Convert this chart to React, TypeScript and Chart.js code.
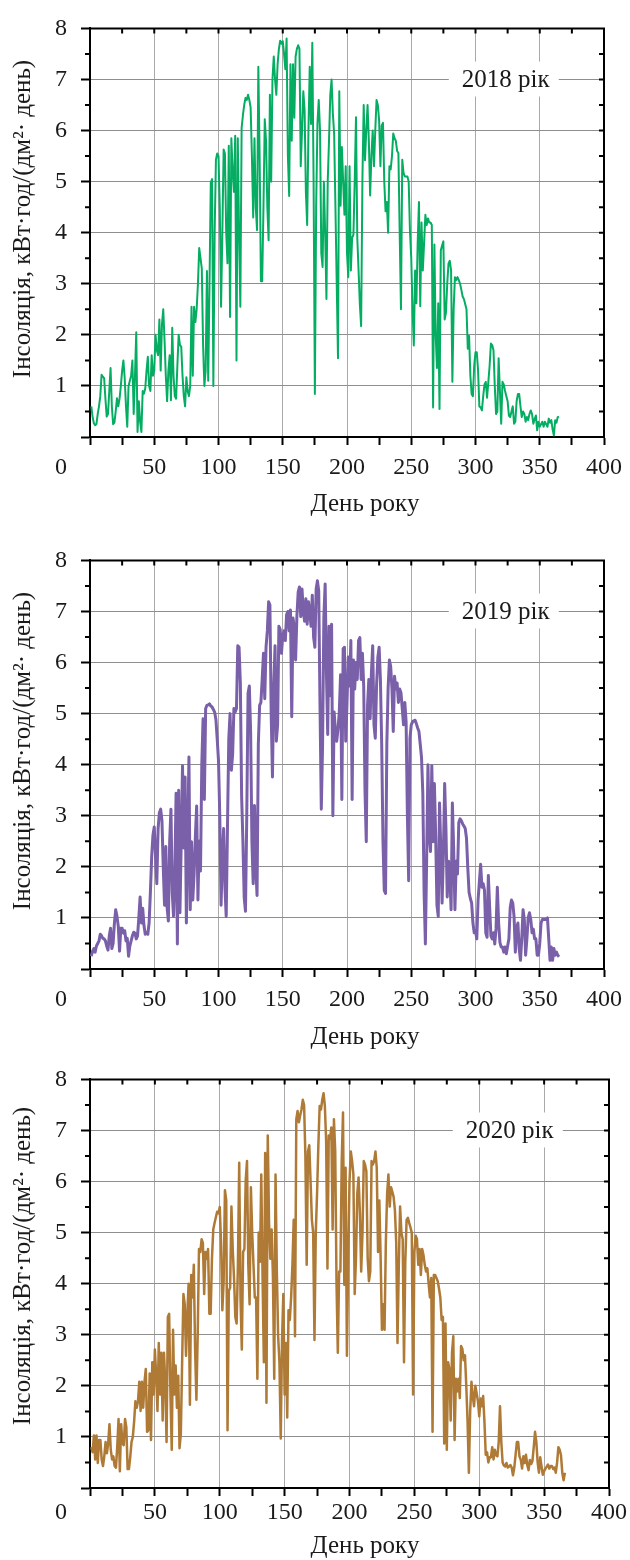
import React, { useEffect, useRef } from 'react';
import { Chart, registerables } from 'chart.js';

Chart.register(...registerables);

const FONT = '"Liberation Serif", "Times New Roman", serif';
const TEXT = '#1a1a1a';

const X_TICK_LABELS = [50, 100, 150, 200, 250, 300, 350, 400];
const Y_TICK_LABELS = [1, 2, 3, 4, 5, 6, 7, 8];
const X_AXIS_TITLE = 'День року';
const Y_AXIS_TITLE = 'Інсоляція, кВт·год/(дм²· день)';
const YEAR_LABELS = ['2018 рік', '2019 рік', '2020 рік'];

const insolation2018 = [
  0.6, 0.4, 0.27, 0.23, 0.25, 0.45, 0.6, 0.8, 1.22, 1.18,
  1.15, 0.75, 0.4, 0.45, 0.9, 1.35, 0.6, 0.25, 0.28, 0.5,
  0.76, 0.6, 0.75, 1.0, 1.3, 1.5, 1.15, 0.6, 0.2, 1.0,
  1.1, 1.2, 1.5, 0.45, 1.2, 2.05, 0.1, 0.7, 0.3, 0.1,
  0.9, 0.85, 0.95, 1.3, 1.57, 1.0, 0.9, 1.6, 1.2, 1.3,
  2.0, 1.7, 1.6, 2.3, 1.3, 2.2, 2.5, 1.9, 1.2, 0.7,
  1.3, 1.6, 0.72, 2.14, 1.2, 0.8, 0.75, 1.4, 2.0, 1.8,
  1.77, 1.2, 0.8, 0.6, 1.17, 0.9, 0.8, 1.0, 2.55, 1.2,
  2.55, 2.25, 2.5, 3.0, 3.7, 3.5, 3.3, 1.8, 1.0, 1.3,
  3.25, 1.1, 3.0, 4.98, 5.05, 1.0, 4.0, 5.43, 5.55, 5.5,
  4.5, 2.55, 4.0, 5.63, 5.55, 4.0, 3.4, 5.7, 2.35, 5.85,
  5.2, 4.8, 5.9, 1.5, 5.85, 4.0, 2.55, 6.05, 6.3, 6.5,
  6.64, 6.6, 6.7, 6.6, 6.45, 5.5, 4.3, 5.85, 4.5, 4.05,
  7.25, 5.5, 3.05, 3.05, 4.5, 6.22, 5.8, 4.5, 3.85, 6.7,
  5.0, 7.0, 7.45, 7.0, 6.7, 7.3, 7.6, 7.76, 7.7, 7.75,
  7.5, 7.2, 7.8, 5.5, 4.72, 7.3, 5.8, 7.3, 6.25, 7.45,
  7.6, 7.67, 7.6, 5.3, 6.0, 6.77, 6.4, 4.8, 4.15, 6.0,
  7.25, 6.13, 7.72, 5.0, 0.84, 4.5, 6.13, 6.6, 6.0, 3.6,
  3.33, 5.0, 4.0, 2.7, 5.0, 5.8, 6.7, 7.0, 6.33, 5.94,
  4.5, 3.0, 1.54, 6.77, 4.53, 5.68, 5.0, 4.35, 5.3, 3.6,
  3.13, 5.3, 3.26, 3.9, 3.96, 5.0, 6.26, 3.9, 3.26, 2.6,
  2.17, 5.04, 6.5, 5.42, 6.0, 6.5, 5.8, 4.73, 5.5, 6.0,
  5.3, 6.0, 6.6, 6.5, 6.2, 5.3, 6.1, 6.15, 5.0, 4.42,
  4.6, 4.0, 5.3, 5.24, 5.5, 5.94, 5.85, 5.8, 5.6, 5.56,
  4.0, 2.5, 5.43, 5.17, 5.1, 5.1, 5.1, 5.0, 4.03, 3.5,
  2.5, 1.79, 3.26, 2.62, 3.8, 4.6, 2.56, 4.2, 3.26, 3.8,
  4.35, 4.15, 4.28, 4.2, 4.2, 4.15, 0.58, 3.77, 2.0, 1.35,
  2.62, 0.55, 3.65, 3.75, 3.83, 2.3, 2.43, 3.0, 3.4, 3.45,
  3.26, 1.08, 2.5, 3.13, 3.07, 3.13, 3.07, 3.0, 2.88, 2.75,
  2.7, 2.6, 2.5, 1.73, 1.98, 1.2, 0.84, 0.8, 1.4, 1.66,
  1.66, 1.3, 0.6, 0.58, 0.52, 0.8, 1.03, 1.08, 0.77, 1.08,
  1.4, 1.83, 1.8, 1.7, 1.0, 0.45, 0.5, 1.54, 0.9, 0.26,
  1.08, 1.03, 0.9, 0.8, 0.7, 0.42, 0.39, 0.5, 0.6, 0.26,
  0.3, 0.7, 0.84, 0.84, 0.6, 0.39, 0.5, 0.45, 0.3, 0.39,
  0.33, 0.45, 0.52, 0.45, 0.26, 0.35, 0.42, 0.13, 0.3, 0.2,
  0.25, 0.3, 0.2, 0.3, 0.25, 0.2, 0.36, 0.28, 0.33, 0.15,
  0.03, 0.33, 0.28, 0.39, 0.4,
];

const insolation2019 = [
  0.25, 0.35, 0.4, 0.33, 0.45, 0.5, 0.55, 0.68, 0.65, 0.6,
  0.59, 0.55, 0.45, 0.37, 0.65, 0.8, 0.4, 0.5, 0.9, 1.16,
  1.03, 0.84, 0.35, 0.8, 0.8, 0.7, 0.75, 0.55, 0.6, 0.25,
  0.45, 0.55, 0.65, 0.72, 0.7, 0.59, 0.65, 1.0, 1.41, 0.9,
  1.19, 0.85, 0.68, 0.71, 0.68, 0.9, 1.5, 2.2, 2.62, 2.78,
  2.2, 1.67, 2.75, 3.06, 3.13, 2.9, 2.0, 1.25, 2.4, 1.2,
  0.94, 2.49, 3.13, 1.5, 1.03, 1.86, 3.44, 0.49, 3.5, 1.1,
  2.49, 3.98, 2.37, 3.76, 0.9, 2.49, 4.15, 1.16, 2.49, 1.35,
  1.86, 2.6, 3.19, 1.35, 2.5, 1.92, 4.0, 4.9, 3.32, 5.1,
  5.16, 5.17, 5.19, 5.15, 5.13, 5.08, 5.03, 4.88, 4.5, 4.08,
  3.0, 1.25, 2.2, 2.75, 1.6, 1.03, 2.8, 4.5, 5.0, 3.89,
  4.2, 5.1, 5.03, 5.1, 6.33, 6.3, 5.6, 3.38, 2.5, 1.4,
  1.13, 3.0, 5.4, 5.54, 4.65, 2.49, 1.67, 3.2, 2.0, 1.44,
  4.4, 5.16, 5.22, 5.67, 6.18, 5.29, 6.3, 6.62, 7.19, 7.13,
  5.0, 3.76, 5.54, 6.33, 4.46, 4.78, 6.71, 6.65, 6.18, 6.52,
  6.62, 6.43, 6.94, 7.0, 6.62, 7.03, 4.94, 6.87, 6.68, 6.05,
  6.9, 7.38, 7.48, 6.9, 7.44, 7.0, 6.81, 7.25, 6.75, 7.19,
  7.0, 6.71, 7.32, 6.5, 6.3, 7.44, 7.6, 7.4, 5.16, 3.13,
  4.4, 6.9, 7.54, 5.79, 4.59, 6.71, 5.35, 6.75, 3.0, 5.03,
  4.65, 4.46, 4.7, 5.03, 5.76, 3.32, 6.27, 6.3, 4.46, 5.2,
  6.11, 5.54, 6.43, 3.32, 6.05, 5.48, 6.0, 5.67, 6.43, 6.49,
  5.67, 6.18, 5.54, 3.5, 2.49, 5.16, 5.67, 4.9, 5.8, 6.33,
  4.78, 4.52, 5.54, 6.1, 6.3, 5.67, 4.4, 2.5, 1.54, 1.48,
  4.4, 5.5, 6.05, 5.92, 5.48, 4.65, 5.73, 5.48, 5.6, 5.22,
  5.48, 5.41, 5.1, 4.78, 5.22, 4.84, 3.0, 1.73, 4.52, 4.78,
  4.84, 4.86, 4.87, 4.8, 4.72, 4.65, 4.4, 4.14, 3.44, 1.5,
  0.49, 2.17, 4.0, 2.62, 2.3, 3.98, 2.49, 3.63, 2.62, 1.25,
  1.03, 3.25, 2.37, 1.29, 2.24, 3.63, 2.75, 1.41, 2.11, 1.86,
  1.16, 3.25, 2.37, 1.16, 2.11, 1.86, 2.87, 2.94, 2.9, 2.84,
  2.8, 2.75, 2.56, 1.98, 1.5, 1.38, 1.29, 0.9, 0.71, 0.75,
  0.59, 1.35, 1.7, 2.05, 1.6, 1.67, 1.54, 0.71, 0.62, 1.83,
  1.22, 0.65, 0.59, 0.71, 0.49, 0.8, 1.6, 0.9, 0.52, 0.43,
  0.43, 0.33, 0.43, 0.3, 0.45, 0.59, 1.2, 1.35, 1.29, 1.03,
  0.33, 0.81, 0.9, 0.4, 0.17, 0.59, 1.16, 0.97, 0.27, 0.59,
  1.0, 1.1, 0.97, 0.71, 0.78, 0.59, 0.59, 0.27, 0.27, 0.5,
  0.9, 0.97, 0.97, 0.97, 0.97, 1.0, 0.59, 0.17, 0.43, 0.17,
  0.4, 0.27, 0.33, 0.27, 0.24,
];

const insolation2020 = [
  0.8, 0.7, 1.03, 0.56, 1.03, 0.49, 0.94, 0.94, 0.56, 0.43,
  0.62, 0.9, 0.68, 0.87, 1.25, 0.75, 0.56, 0.62, 0.43, 0.4,
  0.81, 1.35, 0.33, 1.25, 0.87, 0.84, 1.35, 1.19, 0.37, 0.37,
  0.6, 0.9, 1.0, 1.3, 1.7, 1.57, 1.7, 2.08, 1.51, 2.08,
  1.57, 2.08, 2.33, 1.1, 1.13, 2.24, 0.94, 2.46, 1.83, 2.71,
  2.2, 1.51, 2.84, 1.83, 2.65, 1.32, 2.65, 2.08, 0.9, 3.35,
  3.41, 1.83, 0.75, 3.1, 1.83, 2.4, 1.57, 2.2, 0.78, 1.06,
  2.46, 3.8, 3.6, 2.59, 3.41, 4.0, 1.63, 4.17, 3.73, 4.37,
  2.71, 1.73, 3.0, 4.68, 4.62, 4.87, 4.8, 3.8, 4.62, 4.49,
  4.68, 3.41, 3.41, 4.5, 5.06, 5.19, 5.3, 5.41, 5.38, 5.5,
  4.8, 3.48, 4.05, 5.83, 5.63, 1.13, 3.86, 3.92, 5.51, 4.68,
  4.11, 3.35, 3.22, 4.37, 6.37, 3.73, 2.71, 4.62, 4.68, 6.02,
  6.4, 4.37, 3.6, 5.89, 5.0, 4.37, 3.73, 3.73, 2.14, 5.0,
  4.43, 6.14, 4.11, 2.46, 6.56, 1.67, 6.9, 5.19, 4.49, 5.06,
  4.11, 2.14, 6.14, 4.24, 2.97, 2.46, 0.97, 2.9, 3.8, 1.83,
  2.84, 1.38, 3.48, 3.29, 3.73, 4.37, 5.25, 2.97, 7.22, 7.38,
  7.16, 7.3, 7.41, 7.6, 7.5, 6.5, 4.37, 6.59, 6.71, 6.0,
  5.25, 5.0, 2.9, 5.0, 5.76, 6.71, 7.48, 7.41, 7.6, 7.73,
  7.48, 6.8, 4.3, 6.9, 6.84, 7.06, 5.06, 7.22, 6.59, 4.0,
  2.65, 4.24, 4.24, 6.4, 7.35, 3.98, 6.27, 2.59, 4.49, 6.0,
  6.59, 6.4, 6.14, 3.8, 4.5, 5.76, 6.08, 5.38, 4.24, 5.0,
  6.4, 6.33, 6.2, 4.5, 4.05, 4.24, 6.4, 6.33, 6.4, 6.59,
  6.27, 4.62, 5.63, 4.5, 3.1, 3.6, 3.1, 4.8, 5.76, 6.14,
  5.51, 5.89, 5.8, 5.7, 5.44, 4.81, 2.84, 4.37, 5.51, 5.0,
  4.87, 2.46, 4.43, 5.25, 5.29, 5.19, 5.1, 5.0, 1.83, 4.62,
  4.94, 4.87, 4.37, 4.68, 4.17, 4.68, 4.56, 4.37, 4.24, 4.3,
  4.0, 3.73, 4.11, 1.1, 4.17, 4.17, 4.11, 4.05, 3.9, 3.73,
  3.29, 3.35, 0.87, 3.22, 0.75, 2.46, 2.33, 1.32, 2.65, 2.97,
  0.94, 2.14, 1.89, 2.14, 1.76, 2.78, 2.72, 2.5, 2.6, 2.0,
  1.3, 0.3, 1.5, 2.08, 1.8, 1.6, 2.0, 1.85, 1.7, 1.4,
  1.75, 1.6, 1.8, 1.3, 0.65, 0.7, 0.5, 0.6, 0.6, 0.8,
  0.56, 0.75, 0.64, 0.62, 0.9, 1.6, 0.9, 0.5, 0.44, 0.42,
  0.49, 0.4, 0.42, 0.45, 0.4, 0.25, 0.4, 0.65, 0.9, 0.9,
  0.62, 0.55, 0.38, 0.62, 0.49, 0.65, 0.45, 0.35, 0.55, 0.47,
  0.53, 0.8, 1.1, 0.9, 0.5, 0.3, 0.6, 0.42, 0.26, 0.33,
  0.38, 0.42, 0.46, 0.38, 0.43, 0.43, 0.37, 0.4, 0.3, 0.5,
  0.8, 0.75, 0.64, 0.3, 0.15, 0.3,
];

const SERIES = [insolation2018, insolation2019, insolation2020];
const COLORS = ['#05ad62', '#7a5fa9', '#ae7a36'];
const LINE_WIDTHS = [2, 3, 2.5];

// per-panel layout (canvas placement and text placement)
const PANELS = [
  { top: 0, height: 530, xAxisH: 82, padBottom: 11, xPad: 8, xTitleY: 504, yTitleY: 219 },
  { top: 532, height: 530, xAxisH: 83, padBottom: 10, xPad: 8, xTitleY: 505, yTitleY: 219 },
  { top: 1051, height: 509, xAxisH: 72, padBottom: 0, xPad: 2, xTitleY: 495, yTitleY: 215 },
];

const framePlugin = {
  id: 'frame',
  afterDatasetsDraw(chart: any, _args: any, opts: any) {
    const { ctx, scales } = chart;
    const cx = scales.x.getPixelForValue(opts.labelDay);
    const cy = scales.y.getPixelForValue(opts.labelValue);
    ctx.save();
    ctx.fillStyle = '#ffffff';
    ctx.fillRect(cx - 55, cy - 18, 110, 35);
    ctx.fillStyle = TEXT;
    ctx.font = `25px ${FONT}`;
    ctx.textAlign = 'center';
    ctx.textBaseline = 'middle';
    ctx.fillText(opts.label, cx + 2, cy + 1);
    ctx.restore();
  },
  afterDraw(chart: any, _args: any, opts: any) {
    const { ctx, chartArea: a, scales } = chart;
    const xs = scales.x;
    const ys = scales.y;
    ctx.save();
    ctx.strokeStyle = '#000';
    ctx.lineWidth = 2;
    ctx.beginPath();
    ctx.moveTo(a.left - 1, a.top);
    ctx.lineTo(a.right, a.top);
    ctx.lineTo(a.right, a.bottom);
    for (let v = 0; v <= 400; v += 25) {
      const px = xs.getPixelForValue(v);
      ctx.moveTo(px, a.top);
      ctx.lineTo(px, a.top + 5);
    }
    for (let v = 0; v <= 8; v += 0.5) {
      const py = ys.getPixelForValue(v);
      ctx.moveTo(a.right, py);
      ctx.lineTo(a.right - 5, py);
    }
    for (let v = 0.5; v < 8; v += 1) {
      const py = ys.getPixelForValue(v);
      ctx.moveTo(a.left, py);
      ctx.lineTo(a.left - 5, py);
    }
    ctx.stroke();
    ctx.fillStyle = TEXT;
    ctx.font = `24px ${FONT}`;
    ctx.textAlign = 'right';
    ctx.textBaseline = 'middle';
    ctx.fillText('0', a.left - 23, a.bottom + 8 + opts.xPad + 14.4);
    // axis titles
    ctx.font = `25px ${FONT}`;
    ctx.textAlign = 'center';
    ctx.fillText(X_AXIS_TITLE, 365, opts.xTitleY);
    ctx.translate(23, opts.yTitleY);
    ctx.rotate(-Math.PI / 2);
    ctx.fillText(Y_AXIS_TITLE, 0, 0);
    ctx.restore();
  },
};

function Panel({ index }: { index: number }) {
  const ref = useRef<HTMLCanvasElement | null>(null);
  const p = PANELS[index];
  useEffect(() => {
    if (!ref.current) return;
    const values = SERIES[index];
    const chart = new Chart(ref.current, {
      type: 'line',
      data: {
        datasets: [
          {
            data: values.map((v, i) => ({ x: i + 1, y: v })),
            borderColor: COLORS[index],
            borderWidth: LINE_WIDTHS[index],
            pointRadius: 0,
            tension: 0,
            fill: false,
            borderJoinStyle: 'round',
          },
        ],
      },
      options: {
        animation: false,
        responsive: false,
        maintainAspectRatio: false,
        layout: { padding: { top: 19, right: 21, bottom: p.padBottom, left: 0 } },
        plugins: {
          legend: { display: false },
          tooltip: { enabled: false },
          frame: {
            label: YEAR_LABELS[index],
            labelDay: 322,
            labelValue: 7,
            xPad: p.xPad,
            xTitleY: p.xTitleY,
            yTitleY: p.yTitleY,
          },
        } as any,
        scales: {
          x: {
            type: 'linear',
            min: 0,
            max: 400,
            ticks: {
              stepSize: 25,
              autoSkip: false,
              maxRotation: 0,
              padding: p.xPad,
              color: TEXT,
              font: { family: FONT, size: 24 },
              callback: (v: any) => (X_TICK_LABELS.includes(Number(v)) ? String(v) : ''),
            },
            grid: {
              color: (c: any) => (c.tick && c.tick.value % 50 === 0 ? '#a9a9a9' : 'rgba(0,0,0,0)'),
              lineWidth: 1,
              drawTicks: true,
              tickLength: 8,
              tickColor: '#000',
              tickWidth: 2,
            },
            border: { color: '#000', width: 2 },
            title: { display: false },
            afterFit: (s: any) => {
              s.height = p.xAxisH;
            },
          },
          y: {
            type: 'linear',
            min: 0,
            max: 8,
            ticks: {
              stepSize: 1,
              padding: 14,
              color: TEXT,
              font: { family: FONT, size: 24 },
              callback: (v: any) => (Y_TICK_LABELS.includes(Number(v)) ? String(v) : ''),
            },
            grid: {
              color: '#8e8e8e',
              lineWidth: 1,
              tickLength: 9,
              tickColor: '#000',
              tickWidth: 2,
            },
            border: { color: '#000', width: 2 },
            title: { display: false },
            afterFit: (s: any) => {
              s.width = 90;
            },
          },
        },
      } as any,
      plugins: [framePlugin as any],
    });
    return () => chart.destroy();
  }, [index]);
  return (
    <canvas
      ref={ref}
      width={630}
      height={p.height}
      style={{ position: 'absolute', left: 0, top: p.top, width: 630, height: p.height }}
    />
  );
}

export default function App() {
  return (
    <div style={{ position: 'absolute', left: 0, top: 0, width: 630, height: 1560, background: '#fff' }}>
      <Panel index={0} />
      <Panel index={1} />
      <Panel index={2} />
    </div>
  );
}
